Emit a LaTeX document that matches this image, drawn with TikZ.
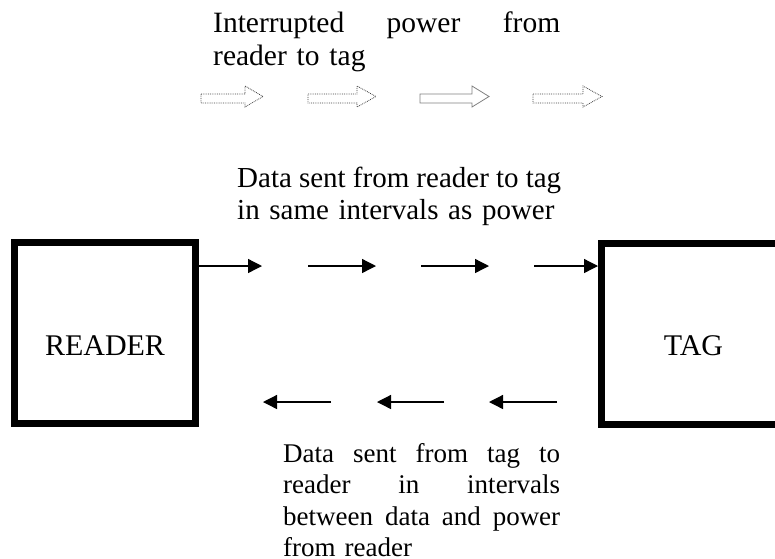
\documentclass[tikz,border=0pt]{standalone}
\usepackage{fontspec}
\setmainfont{Liberation Serif}
\usetikzlibrary{arrows.meta,calc}
\newcommand\powerarrow[4][]{%
  \draw[#1] (#2,94) -- (#3,94) -- (#3,86) -- (#4,96.5) -- (#3,107) -- (#3,103) -- (#2,103) -- cycle;}
\begin{document}
\begin{tikzpicture}[x=1pt,y=-1pt,
  txt/.style={inner sep=0pt,anchor=base west,align=left},
  box/.style={draw,line width=7pt,minimum height=181pt,inner sep=0pt},
  boxlabel/.style={font=\fontsize{30}{33}\selectfont,inner sep=0pt,anchor=base},
  data/.style={line width=1.3pt,-{Triangle[length=14pt,width=14pt]}},
  dotarrow/.style={densely dotted,line width=0.8pt,black!75},
  solidarrow/.style={line width=0.8pt,black!50}]
\useasboundingbox (0,0) rectangle (775,558);
\clip (0,0) rectangle (775,558);
% boxes
\node[box,minimum width=181pt] (reader) at (105,333) {};
\node[boxlabel] (readerlabel) at (105,355) {READER};
\node[box,minimum width=184pt] (tag) at (693.5,333.5) {};
\node[boxlabel] (taglabel) at (693.5,355) {TAG};
% texts
\node[txt,text width=347pt,font=\fontsize{29.5}{33}\selectfont] (t1) at (213,32) {Interrupted\hfill power\hfill from\\reader to tag};
\node[txt,text width=324pt,font=\fontsize{29}{32}\selectfont] (t2) at (237,187) {Data\hfill sent\hfill from\hfill reader\hfill to\hfill tag\\in same intervals as power};
\node[txt,text width=277pt,font=\fontsize{27}{31.5}\selectfont] (t3) at (283,462) {Data\hfill sent\hfill from\hfill tag\hfill to\\reader\hfill in\hfill intervals\\between\hfill data\hfill and\hfill power\\from reader};
% interrupted power arrows
\powerarrow[dotarrow]{201}{245}{263}
\powerarrow[dotarrow]{308}{357}{376}
\powerarrow[solidarrow]{420}{472}{489}
\powerarrow[dotarrow]{533}{583}{602}
% data reader -> tag
\coordinate (a1) at (262,266);
\coordinate (a2s) at (308,266);
\coordinate (a2) at (376,266);
\coordinate (a3s) at (421,266);
\coordinate (a3) at (489,266);
\coordinate (a4s) at (534,266);
\draw[data] (reader.east |- a1) -- (a1);
\draw[data] (a2s) -- (a2);
\draw[data] (a3s) -- (a3);
\draw[data] (a4s) -- (tag.west |- a4s);
% data tag -> reader
\coordinate (b1s) at (557,402);
\coordinate (b1) at (489,402);
\coordinate (b2s) at (444,402);
\coordinate (b2) at (377,402);
\coordinate (b3s) at (331,402);
\coordinate (b3) at (263,402);
\draw[data] (b1s) -- (b1);
\draw[data] (b2s) -- (b2);
\draw[data] (b3s) -- (b3);
\end{tikzpicture}
\end{document}
